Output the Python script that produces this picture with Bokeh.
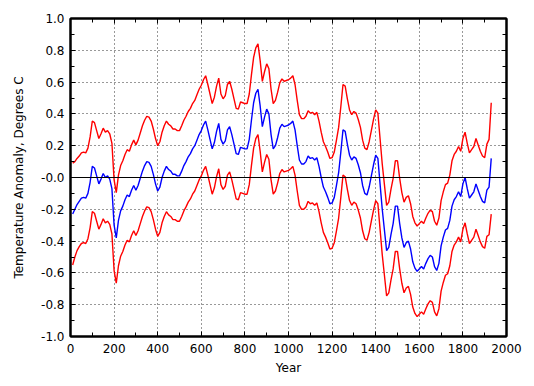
import numpy as np
from bokeh.plotting import figure
from bokeh.models import Range1d, FixedTicker, LinearAxis, Span, PrintfTickFormatter
from bokeh.embed import file_html
from bokeh.resources import INLINE

# ---- data ----
years = list(range(10, 1940, 10))
center = [
    -0.23, -0.20, -0.17, -0.15, -0.13, -0.125, -0.13, -0.10, -0.03, 0.07,     # 10-100
    0.06, 0.01, -0.04, -0.01, 0.025, 0.0, 0.01, -0.01, -0.07, -0.30,          # 110-200
    -0.38, -0.27, -0.21, -0.18, -0.14, -0.11, -0.12, -0.08, -0.05, -0.08,     # 210-300
    -0.05, -0.005, 0.04, 0.075, 0.10, 0.095, 0.07, 0.02, -0.04, -0.085,       # 310-400
    -0.06, 0.0, 0.04, 0.07, 0.05, 0.04, 0.02, 0.02, 0.01, 0.01,               # 410-500
    0.04, 0.075, 0.10, 0.13, 0.15, 0.18, 0.20, 0.235, 0.27, 0.295,            # 510-600
    0.33, 0.355, 0.30, 0.24, 0.18, 0.22, 0.29, 0.34, 0.24, 0.21,              # 610-700
    0.23, 0.30, 0.32, 0.27, 0.21, 0.15, 0.145, 0.19, 0.185, 0.18,             # 710-800
    0.18, 0.24, 0.36, 0.47, 0.53, 0.555, 0.45, 0.32, 0.38, 0.43,              # 810-900
    0.40, 0.27, 0.18, 0.20, 0.25, 0.31, 0.335, 0.32, 0.325, 0.33,             # 910-1000
    0.34, 0.355, 0.30, 0.20, 0.11, 0.085, 0.085, 0.10, 0.135, 0.12,           # 1010-1100
    0.125, 0.11, 0.125, 0.07, 0.0, -0.06, -0.09, -0.125, -0.165, -0.16,       # 1110-1200
    -0.125, -0.05, 0.03, 0.16, 0.30, 0.29, 0.21, 0.14, 0.11, 0.13,            # 1210-1300
    0.12, 0.08, 0.03, -0.05, -0.10, -0.11, -0.06, 0.01, 0.08, 0.14,           # 1310-1400
    0.12, -0.04, -0.20, -0.33, -0.46, -0.44, -0.36, -0.29, -0.18, -0.18,      # 1410-1500
    -0.29, -0.38, -0.44, -0.41, -0.40, -0.45, -0.53, -0.57, -0.59, -0.575,    # 1510-1600
    -0.56, -0.575, -0.54, -0.51, -0.49, -0.50, -0.56, -0.585, -0.54, -0.43,   # 1610-1700
    -0.375, -0.33, -0.32, -0.27, -0.18, -0.14, -0.12, -0.09, -0.12, -0.04,    # 1710-1800
    0.0, -0.07, -0.13, -0.11, -0.09, -0.04, -0.08, -0.12, -0.15, -0.16,       # 1810-1900
    -0.08, -0.06, 0.12,                                                       # 1910-1930
]
err_start = [0.32, 0.30, 0.29, 0.285]
err_mid = 0.285
err_end = [0.29, 0.30, 0.35]

x_ticks = [0, 200, 400, 600, 800, 1000, 1200, 1400, 1600, 1800, 2000]
x_minor = [100, 300, 500, 700, 900, 1100, 1300, 1500, 1700, 1900]
y_ticks = [-1.0, -0.8, -0.6, -0.4, -0.2, 0, 0.2, 0.4, 0.6, 0.8, 1.0]
y_minor = [-0.9, -0.7, -0.5, -0.3, -0.1, 0.1, 0.3, 0.5, 0.7, 0.9]

# ---- build ----
c = np.array(center)
n = len(c)
err = np.full(n, err_mid)
err[:len(err_start)] = err_start
err[n - len(err_end):] = err_end
upper = c + err
lower = c - err

FONT = "DejaVu Sans"

p = figure(width=526, height=378, output_backend="svg", toolbar_location=None,
           x_range=Range1d(0, 2000), y_range=Range1d(-1, 1),
           min_border_left=70, min_border_right=20, min_border_top=18, min_border_bottom=42)
p.background_fill_color = "white"
p.border_fill_color = "white"
p.outline_line_color = "black"
p.outline_line_width = 2

p.line(years, upper.tolist(), color="#ff0000", line_width=1.4)
p.line(years, lower.tolist(), color="#ff0000", line_width=1.4)
p.line(years, center, color="#0000ff", line_width=1.4)
p.add_layout(Span(location=0, dimension="width", line_color="black", line_width=1.2))

xt = FixedTicker(ticks=x_ticks, minor_ticks=x_minor)
yt = FixedTicker(ticks=y_ticks, minor_ticks=y_minor)

bottom = p.xaxis[0]
left = p.yaxis[0]
bottom.ticker = xt
left.ticker = yt
left.formatter = PrintfTickFormatter(format="%.1f")
left.major_label_overrides = {0: "-0.0"}

top = LinearAxis(ticker=xt, major_label_overrides={t: "" for t in x_ticks})
right = LinearAxis(ticker=yt, major_label_overrides={t: "" for t in y_ticks})
p.add_layout(top, "above")
p.add_layout(right, "right")
top.major_label_standoff = 0
right.major_label_standoff = 0

for ax in [bottom, left, top, right]:
    ax.major_tick_in = 5
    ax.major_tick_out = 0
    ax.minor_tick_in = 4
    ax.minor_tick_out = 0
    ax.axis_line_width = 2
    ax.axis_line_color = "black"
    ax.major_tick_line_color = "black"
    ax.minor_tick_line_color = "black"
    ax.major_label_text_font = FONT
    ax.major_label_text_color = "black"
    ax.major_label_text_font_size = "12px"

for ax in [bottom, left]:
    ax.axis_label_text_font = FONT
    ax.axis_label_text_font_size = "12px"
    ax.axis_label_text_font_style = "normal"
    ax.axis_label_text_color = "black"

bottom.axis_label = "Year"
bottom.major_label_standoff = 7
bottom.axis_label_standoff = 5
left.axis_label = "Temperature Anomaly, Degrees C"
left.major_label_standoff = 6
left.axis_label_standoff = 12

p.xgrid.ticker = xt
p.ygrid.ticker = yt
for g in [p.xgrid[0], p.ygrid[0]]:
    g.grid_line_color = "black"
    g.grid_line_dash = "1 3"
    g.grid_line_width = 1
    g.grid_line_alpha = 0.8

open("out.html", "w").write(file_html(p, INLINE))
